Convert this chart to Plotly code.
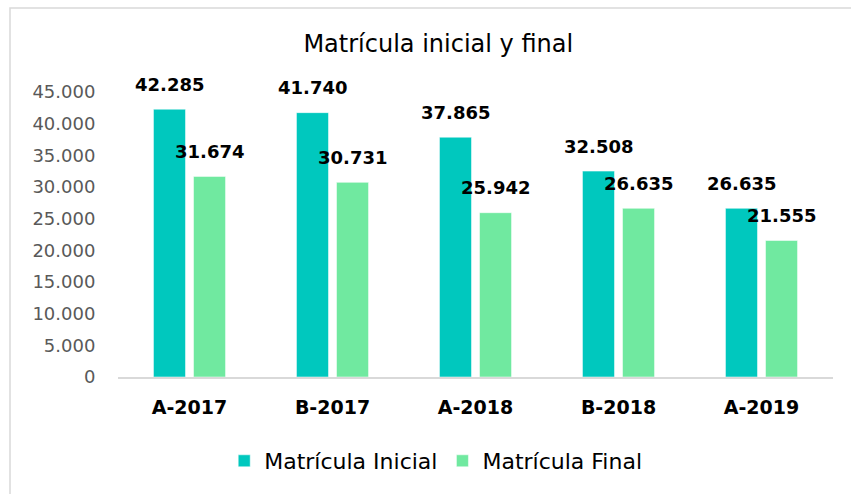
import plotly.graph_objects as go

categories = ["A-2017", "B-2017", "A-2018", "B-2018", "A-2019"]
matricula_inicial = [42285, 41740, 37865, 32508, 26635]
matricula_final = [31674, 30731, 25942, 26635, 21555]
y_ticks = [0, 5000, 10000, 15000, 20000, 25000, 30000, 35000, 40000, 45000]

FONT = "DejaVu Sans"
TEAL = "#00C8BE"
GREEN = "#70E9A0"


def fmt(v):
    return f"{v:,}".replace(",", ".")


fig = go.Figure()
fig.add_trace(go.Bar(name="Matrícula Inicial", x=categories, y=matricula_inicial,
                     marker=dict(color=TEAL, line=dict(color="rgba(255,255,255,0.5)", width=1))))
fig.add_trace(go.Bar(name="Matrícula Final", x=categories, y=matricula_final,
                     marker=dict(color=GREEN, line=dict(color="rgba(255,255,255,0.5)", width=1))))

annotations = []
for series, shift in ((matricula_inicial, -20), (matricula_final, 20)):
    for c, v in zip(categories, series):
        annotations.append(dict(x=c, y=v, xref="x", yref="y", text=f"<b>{fmt(v)}</b>",
                                showarrow=False, xshift=shift, yshift=25, yanchor="middle",
                                font=dict(family=FONT, size=18, color="#000000")))

fig.update_layout(
    width=851, height=494,
    margin=dict(l=118, r=18, t=92, b=117),
    paper_bgcolor="white", plot_bgcolor="white",
    barmode="group", bargap=0.44, bargroupgap=0.2,
    separators=",.",
    title=dict(text="Matrícula inicial y final", x=0.515, xref="container", xanchor="center",
               y=1 - 44 / 494, yref="container", yanchor="middle",
               font=dict(family=FONT, size=24, color="#000000")),
    xaxis=dict(showline=True, linecolor="#D9D9D9", linewidth=1.5, showgrid=False,
               ticks="outside", ticklen=12, tickcolor="rgba(0,0,0,0)",
               tickfont=dict(family=FONT, size=19, color="#000000", weight="bold")),
    yaxis=dict(range=[0, 45000], tickvals=y_ticks, ticktext=[fmt(v) for v in y_ticks],
               showgrid=False, zeroline=False, showline=False,
               ticks="outside", ticklen=18, tickcolor="rgba(0,0,0,0)",
               tickfont=dict(family=FONT, size=18, color="#595959")),
    legend=dict(orientation="h", x=0.512, xref="container", xanchor="center",
                y=1 - 461 / 494, yref="container", yanchor="middle",
                font=dict(family=FONT, size=22, color="#000000"), itemwidth=30),
    annotations=annotations,
    shapes=[dict(type="rect", xref="paper", yref="paper",
                 x0=(10 - 118) / 715, x1=1.5, y0=-1, y1=1 + (92 - 8) / 285,
                 line=dict(color="#D9D9D9", width=1.5), layer="below")],
    showlegend=True,
)

fig.write_html("out.html")
